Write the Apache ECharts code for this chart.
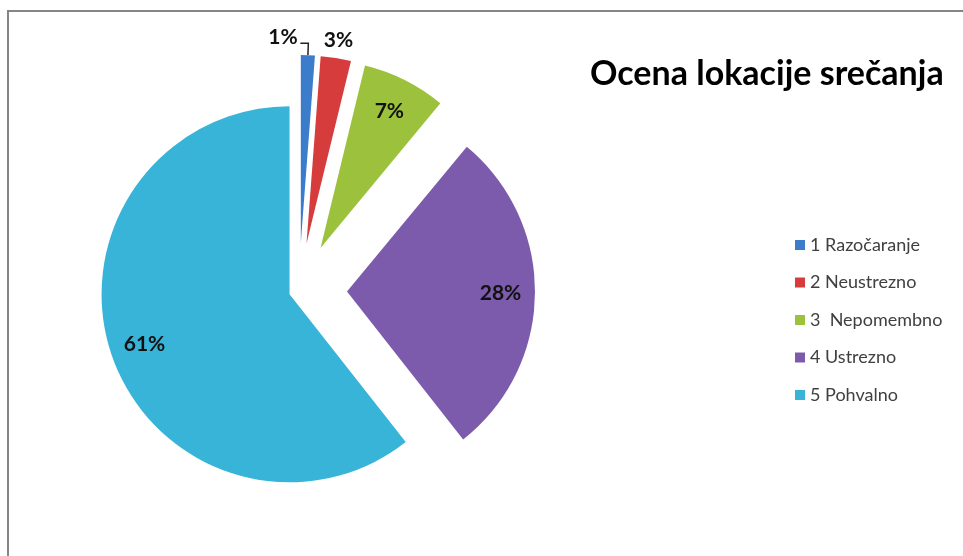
<!DOCTYPE html>
<html>
<head>
<meta charset="utf-8">
<script src="https://cdn.jsdelivr.net/npm/echarts@6/dist/echarts.min.js"></script>
<style>
html,body{margin:0;padding:0;background:#fff;}
#chart{width:963px;height:556px;}
</style>
</head>
<body>
<div id="chart"></div>
<script>
const titleText = 'Ocena lokacije srečanja';
const categories = ['1 Razočaranje', '2 Neustrezno', '3  Nepomembno', '4 Ustrezno', '5 Pohvalno'];
const values = [1.2, 2.6, 7.2, 28.4, 60.6];
const colors = ['#3b7dcb', '#d63c3c', '#9cc23d', '#7c5bad', '#38b4d9'];

const FONT = 'Lato, "Open Sans", sans-serif';
const center = [299, 291];
const R = 188;
const clear = 'rgba(0,0,0,0)';
const pctFmt = p => Math.round(p.percent) + '%';
const labelStyle = {fontFamily: FONT, fontWeight: 'bold', fontSize: 21, color: '#111', formatter: pctFmt};

// which slices belong to which explode group
const bigGroup = [0, 1, 2, 3];   // offset 48
const smallGroup = [4];          // offset 10

function pieData(group, colored, labelFor, labelCfg) {
  return values.map((v, i) => {
    const inGroup = group.includes(i);
    const item = {
      name: categories[i],
      value: v,
      selected: inGroup,
      itemStyle: {color: (colored && inGroup) ? colors[i] : clear, borderWidth: 0},
      label: {show: false},
      labelLine: {show: false}
    };
    if (labelFor.includes(i)) {
      Object.assign(item, labelCfg(i));
    }
    return item;
  });
}

const outsideCfg = i => {
  if (i === 0) {
    return {
      label: Object.assign({}, labelStyle, {
        show: true, position: 'outside', distanceToLabelLine: -32,
        formatter: p => '{t|' + Math.round(p.percent) + '%}',
        rich: {t: {fontFamily: FONT, fontWeight: 'bold', fontSize: 21, color: '#111', padding: [0, 0, 12, 0]}}
      }),
      labelLine: {show: true, length: 12, length2: -8, lineStyle: {color: '#222', width: 1.5}}
    };
  }
  return {
    label: Object.assign({}, labelStyle, {show: true, position: 'outside', distanceToLabelLine: -15}),
    labelLine: {show: false, length: 18, length2: 0}
  };
};
const insideCfg = i => ({
  label: Object.assign({}, labelStyle, {show: true, position: 'inside'})
});

const base = {
  type: 'pie',
  center: center,
  clockwise: true,
  startAngle: 90,
  selectedMode: 'multiple',
  avoidLabelOverlap: false,
  emphasis: {disabled: true},
  labelLine: {minTurnAngle: 0}
};

const option = {
  animation: false,
  backgroundColor: '#fff',
  title: {
    text: titleText,
    left: 585,
    top: 52,
    textStyle: {fontFamily: FONT, fontSize: 34, fontWeight: 'bold', color: '#000'}
  },
  legend: {
    orient: 'vertical',
    left: 790,
    top: 230,
    itemWidth: 10,
    itemHeight: 10,
    itemGap: 17.5,
    icon: 'rect',
    textStyle: {fontFamily: FONT, fontSize: 18, color: '#404040', lineHeight: 20},
    data: categories.map((c, i) => ({name: c, itemStyle: {color: colors[i]}}))
  },
  graphic: [{
    type: 'rect',
    shape: {x: 8, y: 11, width: 1000, height: 600},
    style: {fill: 'none', stroke: '#858585', lineWidth: 2},
    silent: true,
    z: -1
  }],
  series: [
    Object.assign({}, base, {
      name: 'a', radius: [0, R], selectedOffset: 48,
      data: pieData(bigGroup, true, [0, 1], outsideCfg)
    }),
    Object.assign({}, base, {
      name: 'b', radius: [0, R], selectedOffset: 10,
      data: pieData(smallGroup, true, [], insideCfg)
    }),
    Object.assign({}, base, {
      name: 'c', radius: [113, R], selectedOffset: 48, silent: true,
      data: pieData(bigGroup, false, [2, 3], insideCfg)
    }),
    Object.assign({}, base, {
      name: 'd', radius: [113, R], selectedOffset: 10, silent: true,
      data: pieData(smallGroup, false, [4], insideCfg)
    })
  ]
};

const chart = echarts.init(document.getElementById('chart'), null, {renderer: 'canvas'});
chart.setOption(option);
</script>
</body>
</html>
